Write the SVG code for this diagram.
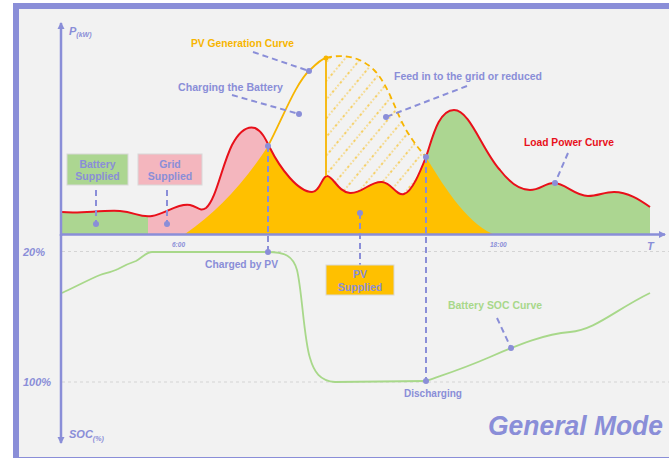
<svg xmlns="http://www.w3.org/2000/svg" width="669" height="458" viewBox="0 0 669 458">
<style>
.pl{fill:#8a8ed8;font-family:"Liberation Sans",Arial,sans-serif;font-weight:bold;font-size:10.5px}
.ax{fill:#8a8ed8;font-family:"Liberation Sans",Arial,sans-serif;font-weight:bold;font-style:italic}
.lead{stroke:#8a8ed8;stroke-width:2;stroke-dasharray:6 4;fill:none}
.dot{fill:#8a8ed8}
.grid{stroke:#d4d4d4;stroke-width:1;stroke-dasharray:3 3}
</style>
<defs>
<marker id="arr" markerWidth="8" markerHeight="8" refX="6" refY="4" orient="auto" markerUnits="userSpaceOnUse">
<path d="M0,0.5 L7,4 L0,7.5 Z" fill="#8a8ed8"/>
</marker>
<pattern id="hatch" patternUnits="userSpaceOnUse" width="12" height="12" patternTransform="rotate(40)">
<line x1="2" y1="0" x2="2" y2="12" stroke="#f7bd1a" stroke-width="1.3" stroke-dasharray="1.2 2.4"/>
</pattern>
<path id="redArea" d="M62,212 C80,214 100,210 120,211 C135,212 140,218 152,216 C165,214 178,203 190,205 C198,207 200,212 206,208 C216,200 222,165 232,145 C240,130 248,126 255,128 C262,131 266,140 270,148 C280,168 298,192 312,192 C320,192 322,176 327,176 C333,176 338,192 350,193 C362,194 370,181 382,182 C392,183 396,196 404,194 C412,192 420,172 426,157 C432,140 438,110 454,110 C470,110 482,150 500,170 C510,183 520,190 530,190 C540,190 545,183 554,183 C565,183 575,196 588,196 C598,196 604,192 614,192 C628,192 640,200 650,207 L650,234 L62,234 Z"/>
<clipPath id="redClip"><use href="#redArea"/></clipPath>
<clipPath id="hatchClip"><path d="M326,58 C345,53 362,58 374,70 C388,84 395,110 405,128 C413,142 420,150 426,157 L426,234 L326,234 Z"/></clipPath>
</defs>

<rect x="16" y="6" width="660" height="454" fill="#f2f2f2" stroke="#8a8ed8" stroke-width="6"/>

<g id="areas">
<g clip-path="url(#redClip)">
<rect x="62" y="100" width="86" height="134" fill="#acd691"/>
<rect x="148" y="100" width="160" height="134" fill="#f4b6be"/>
<rect x="400" y="100" width="250" height="134" fill="#acd691"/>
</g>
<rect x="320" y="50" width="110" height="190" fill="url(#hatch)" clip-path="url(#hatchClip)"/>
<path clip-path="url(#redClip)" fill="#ffc000" d="M185,234 Q232,202 268,146 C282,120 296,82 310,70 C316,64 321,59 326,58 C345,53 362,58 374,70 C388,84 395,110 405,128 C413,142 420,150 426,157 C440,180 465,222 493,234 Z"/>
</g>

<g id="gridlines">
<line class="grid" x1="62" y1="251.5" x2="669" y2="251.5"/>
<line class="grid" x1="62" y1="382" x2="669" y2="382"/>
</g>

<g id="curves">
<path id="loadCurve" fill="none" stroke="#e8101a" stroke-width="2" d="M62,212 C80,214 100,210 120,211 C135,212 140,218 152,216 C165,214 178,203 190,205 C198,207 200,212 206,208 C216,200 222,165 232,145 C240,130 248,126 255,128 C262,131 266,140 270,148 C280,168 298,192 312,192 C320,192 322,176 327,176 C333,176 338,192 350,193 C362,194 370,181 382,182 C392,183 396,196 404,194 C412,192 420,172 426,157 C432,140 438,110 454,110 C470,110 482,150 500,170 C510,183 520,190 530,190 C540,190 545,183 554,183 C565,183 575,196 588,196 C598,196 604,192 614,192 C628,192 640,200 650,207"/>
<path id="pvCurve" fill="none" stroke="#f7b500" stroke-width="1.8" d="M268,146 C282,120 296,82 310,70 C316,64 321,59 326,58"/>
<path fill="none" stroke="#f7b500" stroke-width="1.8" stroke-dasharray="6 4" d="M326,58 C345,53 362,58 374,70 C388,84 395,110 405,128 C413,142 420,150 426,157"/>
<line x1="326" y1="58" x2="326" y2="176" stroke="#f7b500" stroke-width="1.8"/>
<circle cx="326" cy="58" r="2.5" fill="#f7b500"/>
<path id="socCurve" fill="none" stroke="#a8d88a" stroke-width="1.8" d="M62,293 C75,287 90,279 100,275 C106,273 112,272 118,269 C125,265 130,263 136,261 C142,258 146,252 152,252 L268,252 C285,252 293,256 297,270 C302,290 304,340 310,358 C314,372 320,381 335,382 L426,381 C440,376 460,370 490,357 C520,344 545,334 570,332 C595,330 615,310 650,293"/>
</g>

<g id="axes">
<line x1="61" y1="236" x2="61" y2="23" stroke="#8a8ed8" stroke-width="2.5" marker-end="url(#arr)"/>
<line x1="61" y1="234" x2="61" y2="443" stroke="#8a8ed8" stroke-width="2.5" marker-end="url(#arr)"/>
<line x1="60" y1="234.5" x2="665" y2="234.5" stroke="#8a8ed8" stroke-width="2.5" marker-end="url(#arr)"/>
<text class="ax" x="69" y="35" font-size="11">P<tspan font-size="7" dy="1.5">(kW)</tspan></text>
<text class="ax" x="69" y="438" font-size="11">SOC<tspan font-size="7" dy="2.5">(%)</tspan></text>
<text class="ax" x="172" y="247" font-size="6.5">6:00</text>
<text class="ax" x="490" y="247" font-size="6.5">18:00</text>
<text class="ax" x="647" y="250" font-size="11">T</text>
<text class="ax" x="23" y="256" font-size="11">20%</text>
<text class="ax" x="23" y="386" font-size="11">100%</text>
</g>

<g id="connectors">
<line class="lead" x1="253" y1="52" x2="309" y2="71"/>
<line class="lead" x1="232" y1="95" x2="299" y2="114"/>
<line class="lead" x1="467" y1="86" x2="386" y2="117"/>
<line class="lead" x1="568" y1="153" x2="555" y2="183"/>
<line class="lead" x1="96" y1="190" x2="96" y2="224"/>
<line class="lead" x1="167" y1="190" x2="167" y2="224"/>
<line class="lead" x1="268" y1="146" x2="268" y2="252"/>
<line class="lead" x1="360" y1="213" x2="360" y2="265"/>
<line class="lead" x1="426" y1="157" x2="426" y2="381"/>
<line class="lead" x1="497" y1="318" x2="511" y2="348"/>
<circle class="dot" cx="309" cy="71" r="3"/>
<circle class="dot" cx="299" cy="114" r="3"/>
<circle class="dot" cx="386" cy="117" r="3"/>
<circle class="dot" cx="555" cy="183" r="3"/>
<circle class="dot" cx="96" cy="224" r="3"/>
<circle class="dot" cx="167" cy="224" r="3"/>
<circle class="dot" cx="268" cy="146" r="3"/>
<circle class="dot" cx="268" cy="252" r="3"/>
<circle class="dot" cx="360" cy="213" r="3"/>
<circle class="dot" cx="426" cy="157" r="3"/>
<circle class="dot" cx="426" cy="381" r="3"/>
<circle class="dot" cx="511" cy="348" r="3"/>
</g>

<g id="pvGenLabel"><text class="pl" x="191" y="47" fill="#f7b500" style="fill:#f7b500" textLength="103" lengthAdjust="spacingAndGlyphs">PV Generation Curve</text></g>
<g id="chargingLabel"><text class="pl" x="178" y="91" textLength="105" lengthAdjust="spacingAndGlyphs">Charging the Battery</text></g>
<g id="feedLabel"><text class="pl" x="394" y="80" textLength="148" lengthAdjust="spacingAndGlyphs">Feed in to the grid or reduced</text></g>
<g id="loadLabel"><text class="pl" x="524" y="146" style="fill:#e8101a" textLength="90" lengthAdjust="spacingAndGlyphs">Load Power Curve</text></g>
<g id="batterySupplied">
<rect x="67" y="154" width="61" height="31" fill="#acd691" stroke="#d8d8d8" stroke-width="1"/>
<text class="pl" x="97.5" y="168" text-anchor="middle">Battery</text>
<text class="pl" x="97.5" y="180" text-anchor="middle">Supplied</text>
</g>
<g id="gridSupplied">
<rect x="138" y="154" width="64" height="31" fill="#f4b6be" stroke="#d8d8d8" stroke-width="1"/>
<text class="pl" x="170" y="168" text-anchor="middle">Grid</text>
<text class="pl" x="170" y="180" text-anchor="middle">Supplied</text>
</g>
<g id="pvSupplied">
<rect x="326" y="265" width="68" height="30" fill="#ffc000" stroke="#d8d8d8" stroke-width="1"/>
<text class="pl" x="360" y="278" text-anchor="middle">PV</text>
<text class="pl" x="360" y="291" text-anchor="middle">Supplied</text>
</g>
<g id="chargedLabel"><text class="pl" x="205" y="268" textLength="73" lengthAdjust="spacingAndGlyphs">Charged by PV</text></g>
<g id="dischargingLabel"><text class="pl" x="404" y="397" textLength="58" lengthAdjust="spacingAndGlyphs">Discharging</text></g>
<g id="socLabel"><text class="pl" x="448" y="309" style="fill:#a8d88a" textLength="94" lengthAdjust="spacingAndGlyphs">Battery SOC Curve</text></g>
<g id="title"><text class="ax" x="488" y="435" font-size="27" textLength="175" lengthAdjust="spacingAndGlyphs">General Mode</text></g>
</svg>
